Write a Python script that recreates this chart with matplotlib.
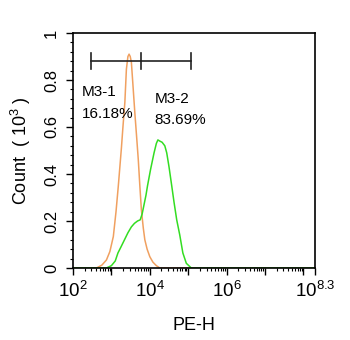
import matplotlib
matplotlib.use("Agg")
import matplotlib.pyplot as plt
import numpy as np
from matplotlib.ticker import FixedLocator, NullFormatter

plt.rcParams['font.family'] = ['Liberation Sans', 'DejaVu Sans']
plt.rcParams['mathtext.fontset'] = 'custom'
plt.rcParams['mathtext.rm'] = 'Liberation Sans'
plt.rcParams['mathtext.it'] = 'Liberation Sans'
plt.rcParams['mathtext.bf'] = 'Liberation Sans:bold'

# log10(PE-H) and count (x10^3)
orange_x = [2.00, 2.61, 2.75, 2.87, 2.96, 3.05, 3.12, 3.18, 3.22, 3.26, 3.30, 3.35, 3.39, 3.43, 3.46, 3.49, 3.52, 3.56, 3.61, 3.66, 3.70, 3.74, 3.78, 3.83, 3.87, 3.93, 4.00, 4.08, 4.17, 4.26, 8.3]
orange_y = [0.0, 0.0, 0.012, 0.034, 0.07, 0.134, 0.24, 0.35, 0.43, 0.51, 0.60, 0.705, 0.846, 0.90, 0.91, 0.90, 0.875, 0.78, 0.66, 0.55, 0.46, 0.35, 0.248, 0.17, 0.12, 0.08, 0.048, 0.025, 0.01, 0.0, 0.0]
green_x = [2.00, 2.87, 3.00, 3.10, 3.17, 3.25, 3.34, 3.43, 3.52, 3.60, 3.68, 3.75, 3.80, 3.85, 3.90, 3.94, 4.02, 4.11, 4.17, 4.21, 4.26, 4.32, 4.39, 4.44, 4.50, 4.57, 4.63, 4.70, 4.78, 4.86, 4.95, 5.08, 8.3]
green_y = [0.0, 0.0, 0.01, 0.03, 0.064, 0.09, 0.12, 0.15, 0.175, 0.19, 0.20, 0.205, 0.23, 0.27, 0.31, 0.35, 0.42, 0.49, 0.53, 0.545, 0.54, 0.535, 0.52, 0.49, 0.43, 0.35, 0.28, 0.205, 0.14, 0.064, 0.02, 0.0, 0.0]

gate_y = 0.88
gate1 = (2.46, 3.78)
gate2 = (3.78, 5.06)
label1 = ("M3-1", "16.18%")
label2 = ("M3-2", "83.69%")

fig = plt.figure(figsize=(3.5, 3.4), dpi=100)
ax = fig.add_axes([73/350, 1-268/340, (315-73)/350, (268-33)/340])

ax.plot(10**np.array(orange_x), orange_y, color='#F0A060', lw=1.1)
ax.plot(10**np.array(green_x), green_y, color='#33DD22', lw=1.1)

ax.set_xscale('log')
ax.set_xlim(10**2, 10**8.3)
ax.set_ylim(0, 1)

# gates
for (a, b) in (gate1, gate2):
    ax.plot([10**a, 10**b], [gate_y, gate_y], color='#222222', lw=1.2)
for v in (gate1[0], gate1[1], gate2[1]):
    ax.plot([10**v, 10**v], [gate_y-0.034, gate_y+0.034], color='#222222', lw=1.2)

ax.text(10**2.226, 0.732, label1[0], fontsize=11, va='baseline', ha='left')
ax.text(10**2.226, 0.640, label1[1], fontsize=11, va='baseline', ha='left')
ax.text(10**4.13, 0.703, label2[0], fontsize=11, va='baseline', ha='left')
ax.text(10**4.13, 0.611, label2[1], fontsize=11, va='baseline', ha='left')

# ticks
majors = [10**k for k in range(2, 9)] + [10**8.3]
ax.xaxis.set_major_locator(FixedLocator(majors))
ax.set_xticklabels([r'$\mathregular{10^{2}}$', '', r'$\mathregular{10^{4}}$', '', r'$\mathregular{10^{6}}$', '', '', r'$\mathregular{10^{8.3}}$'])
minors = []
for k in range(2, 9):
    for m in range(2, 10):
        v = m * 10**k
        if v < 10**8.3:
            minors.append(v)
ax.xaxis.set_minor_locator(FixedLocator(minors))
ax.xaxis.set_minor_formatter(NullFormatter())
ax.tick_params(axis='x', which='major', length=5, width=1, labelsize=13.5, pad=4)
ax.tick_params(axis='x', which='minor', length=2.5, width=0.8)

ax.set_yticks([0, 0.2, 0.4, 0.6, 0.8, 1.0])
ax.set_yticklabels(['0', '0.2', '0.4', '0.6', '0.8', '1'], rotation=90, va='center')
ax.yaxis.set_minor_locator(FixedLocator(np.arange(0, 1.001, 0.04)))
ax.tick_params(axis='y', which='major', length=5, width=1, labelsize=12, pad=5)
ax.tick_params(axis='y', which='minor', length=2.5, width=0.8)

for s in ax.spines.values():
    s.set_linewidth(1.2)

ax.set_xlabel('PE-H', fontsize=13, labelpad=12)
ax.set_ylabel(r'Count  ( $\mathregular{10^{3}}$ )', fontsize=13, labelpad=8)

fig.savefig('out.png', dpi=100)
